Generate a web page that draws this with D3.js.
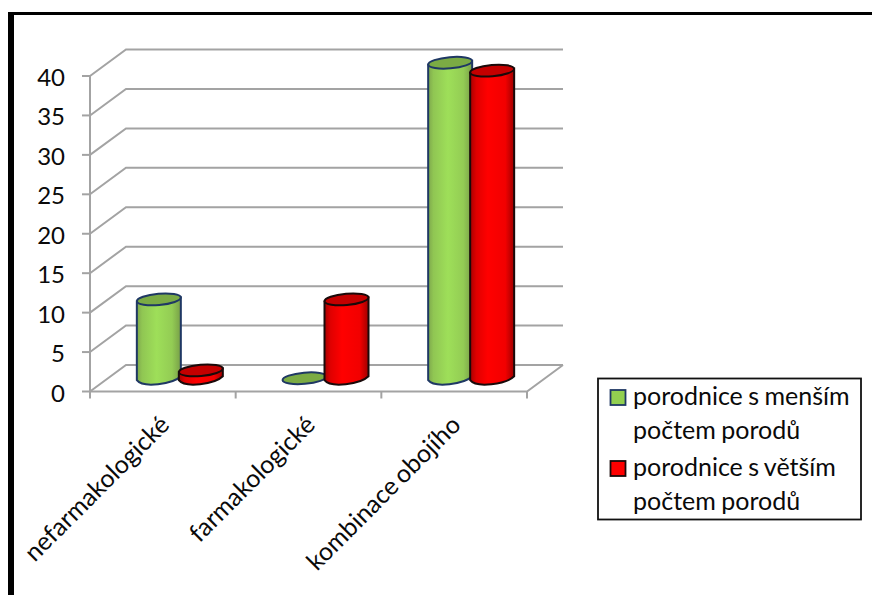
<!DOCTYPE html>
<html>
<head>
<meta charset="utf-8">
<script src="https://cdn.jsdelivr.net/npm/d3@7/dist/d3.min.js"></script>
<style>
html,body{margin:0;padding:0;background:#fff;}
svg{display:block;font-family:Lato,Carlito,sans-serif;}
</style>
</head>
<body>
<script>
const categories = ["nefarmakologické", "farmakologické", "kombinace obojího"];
const seriesNames = [["porodnice s menším", "počtem porodů"], ["porodnice s větším", "počtem porodů"]];
const smallerHospitals = [10, 0, 40];
const largerHospitals = [1, 10, 39];
const yTicks = [0, 5, 10, 15, 20, 25, 30, 35, 40];

const W = 872, H = 595;
const depthX = 36, depthY = -26.5;
const svg = d3.select("body").append("svg").attr("width", W).attr("height", H);

const x = d3.scaleBand().domain(categories).range([90, 527]);
const y = d3.scaleLinear().domain([0, 40]).range([391.5, 76]);
const inner = d3.scaleBand().domain([0, 1]).range([-25, 59]);

const defs = svg.append("defs");
function sideGradient(id, stops) {
  const g = defs.append("linearGradient").attr("id", id);
  stops.forEach(([o, c]) => g.append("stop").attr("offset", o).attr("stop-color", c));
}
sideGradient("greenSide", [[0, "#7ea84c"], [0.12, "#90c653"], [0.45, "#9edf59"], [0.8, "#93cc54"], [1, "#789f48"]]);
sideGradient("redSide", [[0, "#a80000"], [0.14, "#e00000"], [0.4, "#ff0000"], [0.8, "#f20000"], [1, "#a00000"]]);

const C = {green: {side: "url(#greenSide)", top: "#7bab44", edge: "#1f3864", swatch: "#92d050"},
           red: {side: "url(#redSide)", top: "#c40000", edge: "#1a0a0a", swatch: "#ff0000"}};

// Gridlines run along the side wall and across the back wall
const gridColor = "#a3a3a3";
const grid = svg.append("g").attr("fill", "none").attr("stroke", gridColor).attr("stroke-width", 2);
yTicks.forEach(t => {
  const p = d3.path();
  p.moveTo(x.range()[0], y(t));
  p.lineTo(x.range()[0] + depthX, y(t) + depthY);
  p.lineTo(x.range()[1] + depthX, y(t) + depthY);
  grid.append("path").attr("d", p);
  grid.append("line").attr("x1", x.range()[0] - 8).attr("x2", x.range()[0]).attr("y1", y(t)).attr("y2", y(t));
});
grid.append("line").attr("x1", x.range()[0]).attr("x2", x.range()[0]).attr("y1", y(40)).attr("y2", y(0));
grid.append("path").attr("d", d3.line()([[x.range()[0], y(0)], [x.range()[1], y(0)], [x.range()[1] + depthX, y(0) + depthY]]));
[0, 1, 2, 3].forEach(i => {
  const px = x.range()[0] + i * x.step();
  grid.append("line").attr("x1", px).attr("x2", px).attr("y1", y(0)).attr("y2", y(0) + 7);
});

// Value-axis labels
svg.append("g").selectAll("text").data(yTicks).join("text")
  .attr("x", 65).attr("y", d => y(d) + 10).attr("text-anchor", "end")
  .attr("font-size", 24).attr("fill", "#0a0a0a").text(d => d);

// Category labels, slanted up to the right
svg.append("g").selectAll("text").data(categories).join("text")
  .attr("text-anchor", "end").attr("font-size", 25).attr("fill", "#0a0a0a")
  .attr("word-spacing", -2)
  .attr("transform", d => `translate(${x(d) + x.bandwidth() / 2 + 8},${y(0) + 35}) rotate(-45)`)
  .text(d => d);

// One cylinder, tilted slightly to follow the view angle
function cylinder(parent, cx, value, col) {
  const rx = 22, ry = 5.6, tilt = -5;
  const baseY = y(0) + depthY / 2;
  const topY = y(value) + depthY / 2;
  const g = parent.append("g");
  const dy = rx * Math.tan(tilt * Math.PI / 180);
  if (value > 0) {
    const side = d3.path();
    side.moveTo(cx - rx, topY - dy);
    side.lineTo(cx - rx, baseY - dy);
    side.bezierCurveTo(cx - rx + 6, baseY - dy + 8, cx + rx - 8, baseY + dy + 8, cx + rx, baseY + dy);
    side.lineTo(cx + rx, topY + dy);
    side.closePath();
    g.append("path").attr("d", side).attr("fill", col.side).attr("stroke", col.edge).attr("stroke-width", 2);
  }
  g.append("ellipse").attr("cx", cx).attr("cy", topY).attr("rx", rx).attr("ry", ry)
    .attr("transform", `rotate(${tilt} ${cx} ${topY})`)
    .attr("fill", col.top).attr("stroke", col.edge).attr("stroke-width", 2);
}

const marks = svg.append("g");
categories.forEach((c, i) => {
  const base = x(c) + x.bandwidth() / 2;
  cylinder(marks, base + inner(0) + inner.bandwidth() / 2, smallerHospitals[i], C.green);
  cylinder(marks, base + inner(1) + inner.bandwidth() / 2, largerHospitals[i], C.red);
});

// Legend box
const legend = svg.append("g");
legend.append("rect").attr("x", 598).attr("y", 378.5).attr("width", 263).attr("height", 141)
  .attr("fill", "#fff").attr("stroke", "#111").attr("stroke-width", 1.8);
const entries = [{names: seriesNames[0], col: C.green, top: 390},
                 {names: seriesNames[1], col: C.red, top: 461}];
entries.forEach(e => {
  legend.append("rect").attr("x", 610.5).attr("y", e.top).attr("width", 15).attr("height", 15)
    .attr("fill", e.col.swatch).attr("stroke", e.col.edge).attr("stroke-width", 1.8);
  e.names.forEach((n, k) => {
    legend.append("text").attr("x", 633).attr("y", e.top + 15 + k * 33.5)
      .attr("font-size", 25).attr("word-spacing", -1).attr("fill", "#0a0a0a").text(n);
  });
});

// Slide frame: heavy rules on the top and left
svg.append("rect").attr("x", 8).attr("y", 12).attr("width", 6).attr("height", H - 12).attr("fill", "#000");
svg.append("rect").attr("x", 8).attr("y", 12).attr("width", W - 8).attr("height", 3).attr("fill", "#000");
</script>
</body>
</html>
